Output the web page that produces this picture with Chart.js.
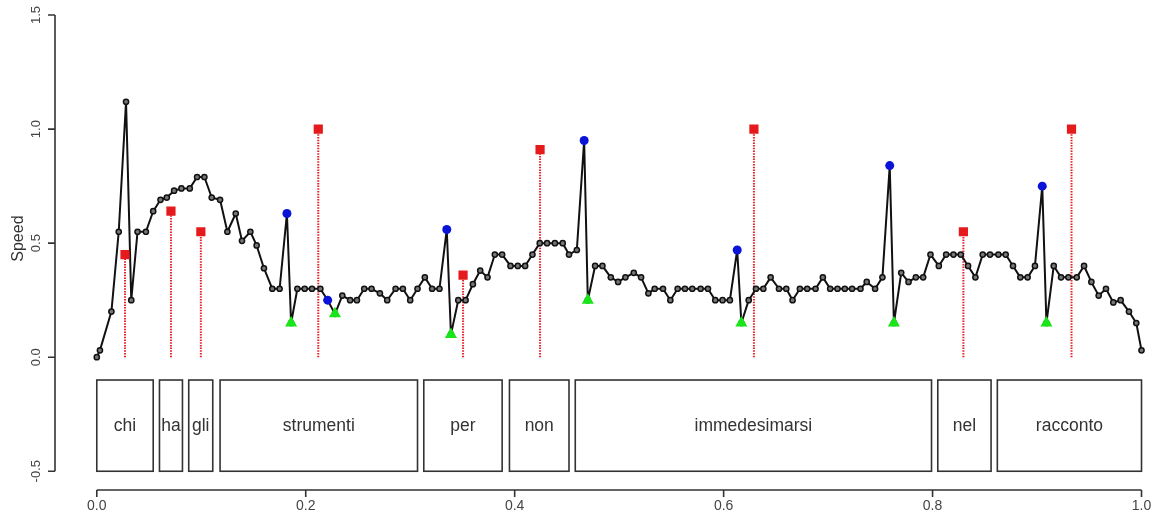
<!DOCTYPE html>
<html>
<head>
<meta charset="utf-8">
<script src="https://cdn.jsdelivr.net/npm/chart.js@4"></script>
<style>
html,body{margin:0;padding:0;background:#fff;overflow:hidden;}
#wrap{position:relative;width:1153px;height:514px;}
</style>
</head>
<body>
<div id="wrap"><canvas id="c" width="1153" height="514"></canvas></div>
<script>
// ---- data ----
const speedX = [0.000,0.003,0.014,0.021,0.028,0.033,0.039,0.047,0.054,0.061,0.067,0.074,0.081,0.089,0.096,0.103,0.110,0.118,0.125,0.133,0.139,0.147,0.153,0.160,0.168,0.175,0.182,0.186,0.192,0.199,0.206,0.214,0.221,0.228,0.235,0.2425,0.249,0.256,0.263,0.271,0.278,0.286,0.293,0.300,0.307,0.314,0.321,0.328,0.335,0.339,0.346,0.353,0.360,0.367,0.374,0.381,0.388,0.396,0.403,0.410,0.417,0.424,0.431,0.4385,0.446,0.452,0.4595,0.4665,0.470,0.477,0.484,0.492,0.499,0.506,0.514,0.521,0.528,0.534,0.542,0.549,0.556,0.563,0.570,0.578,0.585,0.592,0.599,0.606,0.613,0.617,0.624,0.631,0.638,0.645,0.653,0.660,0.666,0.673,0.680,0.688,0.695,0.702,0.709,0.716,0.723,0.731,0.737,0.745,0.752,0.759,0.763,0.770,0.777,0.784,0.791,0.798,0.806,0.813,0.820,0.827,0.834,0.841,0.848,0.855,0.863,0.870,0.877,0.884,0.891,0.898,0.905,0.909,0.916,0.923,0.930,0.938,0.945,0.952,0.959,0.966,0.973,0.980,0.988,0.995,1.000];
const speedY = [0.00,0.03,0.20,0.55,1.12,0.25,0.55,0.55,0.64,0.69,0.70,0.73,0.74,0.74,0.79,0.79,0.70,0.69,0.55,0.63,0.51,0.55,0.49,0.39,0.30,0.30,0.63,0.15,0.30,0.30,0.30,0.30,0.25,0.19,0.27,0.25,0.25,0.30,0.30,0.28,0.25,0.30,0.30,0.25,0.30,0.35,0.30,0.30,0.56,0.10,0.25,0.25,0.32,0.38,0.35,0.45,0.45,0.40,0.40,0.40,0.45,0.50,0.50,0.50,0.50,0.45,0.47,0.95,0.25,0.40,0.40,0.35,0.33,0.35,0.37,0.35,0.28,0.30,0.30,0.25,0.30,0.30,0.30,0.30,0.30,0.25,0.25,0.25,0.47,0.15,0.25,0.30,0.30,0.35,0.30,0.30,0.25,0.30,0.30,0.30,0.35,0.30,0.30,0.30,0.30,0.30,0.33,0.30,0.35,0.84,0.15,0.37,0.33,0.35,0.35,0.45,0.40,0.45,0.45,0.45,0.40,0.35,0.45,0.45,0.45,0.45,0.40,0.35,0.35,0.40,0.75,0.15,0.40,0.35,0.35,0.35,0.40,0.33,0.27,0.30,0.24,0.25,0.20,0.15,0.03];

const peakX = [0.182,0.221,0.335,0.4665,0.613,0.759,0.905];
const peakY = [0.63,0.25,0.56,0.95,0.47,0.84,0.75];
const troughX = [0.186,0.228,0.339,0.470,0.617,0.763,0.909];
const troughY = [0.15,0.19,0.10,0.25,0.15,0.15,0.15];
const redX = [0.027,0.071,0.0996,0.212,0.3506,0.4243,0.629,0.8295,0.933];
const redY = [0.45,0.64,0.55,1.00,0.36,0.91,1.00,0.55,1.00];

const wordLabels = ['chi','ha','gli','strumenti','per','non','immedesimarsi','nel','racconto'];
const wordStart = [0.000,0.060,0.088,0.118,0.313,0.395,0.458,0.805,0.862];
const wordEnd   = [0.054,0.082,0.111,0.307,0.388,0.452,0.799,0.856,1.000];
const boxTop = -0.1, boxBottom = -0.5;

const xTicks = [0,0.2,0.4,0.6,0.8,1.0];
const xTickLabels = ['0.0','0.2','0.4','0.6','0.8','1.0'];
const yTicks = [-0.5,0,0.5,1.0,1.5];
const yTickLabels = ['-0.5','0.0','0.5','1.0','1.5'];
const yTitle = 'Speed';

// ---- datasets ----
const pts = (xs, ys) => xs.map((x, i) => ({x: x, y: ys[i]}));
const datasets = [];
redX.forEach((x, i) => {
  datasets.push({
    data: [{x: x, y: 0}, {x: x, y: redY[i]}],
    showLine: true, borderColor: '#e5222a', borderWidth: 2,
    borderDash: [1.5, 1.2], pointRadius: 0, order: 5
  });
});
datasets.push({
  data: pts(speedX, speedY), showLine: true,
  borderColor: '#111', borderWidth: 2, tension: 0, borderJoinStyle: 'round',
  pointRadius: 2.6, pointBorderWidth: 1.5,
  pointBorderColor: '#111', pointBackgroundColor: '#777', order: 4
});
datasets.push({
  data: pts(redX, redY), pointStyle: 'rect', pointRadius: 6.5,
  pointBackgroundColor: '#e41a1c', pointBorderColor: '#e41a1c', pointBorderWidth: 0, order: 3
});
datasets.push({
  data: pts(peakX, peakY), pointStyle: 'circle', pointRadius: 4.5,
  pointBackgroundColor: '#0a14d8', pointBorderColor: '#0a14d8', pointBorderWidth: 0, order: 2
});
datasets.push({
  data: pts(troughX, troughY), pointStyle: 'triangle', pointRadius: 7,
  pointBackgroundColor: '#19e619', pointBorderColor: '#19e619', pointBorderWidth: 0, order: 1
});

const FONT = '"Liberation Sans", Arial, sans-serif';

const rAxes = {
  id: 'rAxes',
  afterDraw(chart) {
    const ctx = chart.ctx, xs = chart.scales.x, ys = chart.scales.y, ca = chart.chartArea;
    ctx.save();
    // word boxes
    ctx.strokeStyle = '#333'; ctx.lineWidth = 1.6;
    ctx.fillStyle = '#333';
    ctx.font = '17.5px ' + FONT;
    ctx.textAlign = 'center'; ctx.textBaseline = 'middle';
    const yt = ys.getPixelForValue(boxTop), yb = ys.getPixelForValue(boxBottom);
    wordLabels.forEach((w, i) => {
      const x0 = xs.getPixelForValue(wordStart[i]), x1 = xs.getPixelForValue(wordEnd[i]);
      ctx.strokeRect(x0, yt, x1 - x0, yb - yt);
      ctx.fillText(w, (x0 + x1) / 2, (yt + yb) / 2 + 1);
    });
    // y axis
    const ax = ca.left;
    ctx.strokeStyle = '#333'; ctx.lineWidth = 1.6;
    ctx.beginPath();
    ctx.moveTo(ax, ys.getPixelForValue(yTicks[0]));
    ctx.lineTo(ax, ys.getPixelForValue(yTicks[yTicks.length - 1]));
    yTicks.forEach(v => {
      const p = ys.getPixelForValue(v);
      ctx.moveTo(ax, p); ctx.lineTo(ax - 7, p);
    });
    ctx.stroke();
    ctx.fillStyle = '#444';
    ctx.font = '13px ' + FONT;
    yTicks.forEach((v, i) => {
      const p = ys.getPixelForValue(v);
      ctx.save(); ctx.translate(ax - 19, p); ctx.rotate(-Math.PI / 2);
      ctx.textAlign = 'center'; ctx.textBaseline = 'middle';
      ctx.fillText(yTickLabels[i], 0, 0);
      ctx.restore();
    });
    // y title
    ctx.fillStyle = '#333';
    ctx.font = '16px ' + FONT;
    ctx.save(); ctx.translate(19, ys.getPixelForValue(0.52)); ctx.rotate(-Math.PI / 2);
    ctx.textAlign = 'center'; ctx.textBaseline = 'middle';
    ctx.fillText(yTitle, 0, 0);
    ctx.restore();
    // x axis
    const ay = ca.bottom + 0.5;
    ctx.strokeStyle = '#333'; ctx.lineWidth = 1.6;
    ctx.beginPath();
    ctx.moveTo(xs.getPixelForValue(xTicks[0]), ay);
    ctx.lineTo(xs.getPixelForValue(xTicks[xTicks.length - 1]), ay);
    xTicks.forEach(v => {
      const p = xs.getPixelForValue(v);
      ctx.moveTo(p, ay); ctx.lineTo(p, ay + 7);
    });
    ctx.stroke();
    ctx.fillStyle = '#444';
    ctx.font = '14px ' + FONT;
    ctx.textAlign = 'center'; ctx.textBaseline = 'middle';
    xTicks.forEach((v, i) => {
      ctx.fillText(xTickLabels[i], xs.getPixelForValue(v), ay + 16);
    });
    ctx.restore();
  }
};

new Chart(document.getElementById('c'), {
  type: 'scatter',
  data: {datasets: datasets},
  options: {
    responsive: false, animation: false,
    layout: {autoPadding: false, padding: {left: 55, right: 0, top: 0, bottom: 24.5}},
    plugins: {legend: {display: false}, tooltip: {enabled: false}},
    scales: {
      x: {type: 'linear', min: -0.04, max: 1.011, display: false},
      y: {type: 'linear', min: -0.58, max: 1.566, display: false}
    }
  },
  plugins: [rAxes]
});
</script>
</body>
</html>
